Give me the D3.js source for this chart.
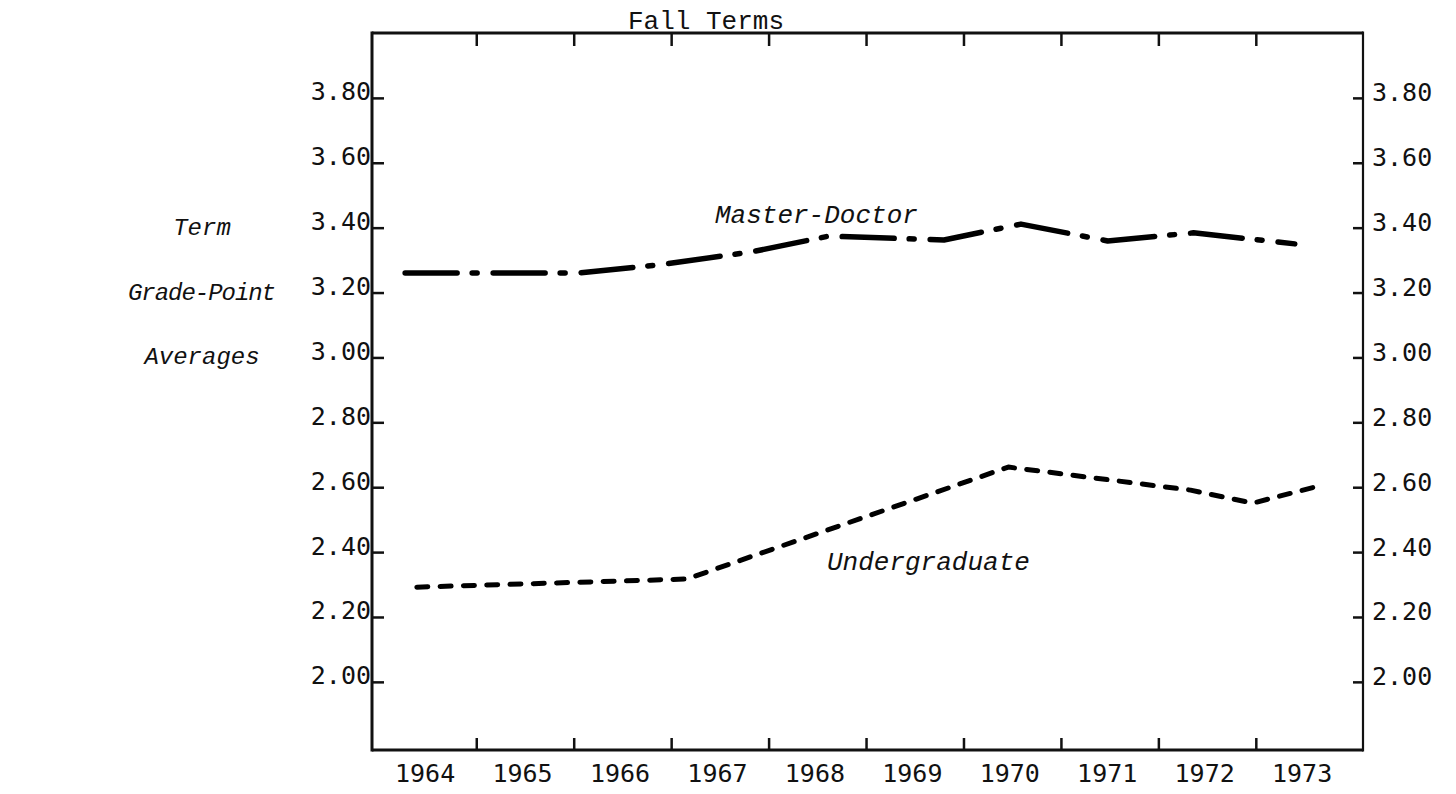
<!DOCTYPE html>
<html>
<head>
<meta charset="utf-8">
<script src="https://cdn.jsdelivr.net/npm/d3@7"></script>
<style>
  body { margin: 0; background: #fff; }
  svg { display: block; }
  .tick text { font-family: "DejaVu Sans Mono", monospace; font-size: 25px; fill: #111; }
  .tick line { stroke: #111; stroke-width: 2.5; }
  .domain { display: none; }
</style>
</head>
<body>
<script>
var width = 1456,
  height = 794;

// fall term years, tick values
var years = [1964, 1965, 1966, 1967, 1968, 1969, 1970, 1971, 1972, 1973];
var yearBreaks = [1965, 1966, 1967, 1968, 1969, 1970, 1971, 1972, 1973];
var gpaTicks = [2.00, 2.20, 2.40, 2.60, 2.80, 3.00, 3.20, 3.40, 3.60, 3.80];

// line vertices (position in year units, grade-point average)
var mdYears = [1964.27, 1966.05, 1966.87, 1967.82, 1968.62, 1969.80, 1970.59, 1971.48, 1972.36, 1973.40];
var mdGpa   = [3.260, 3.260, 3.285, 3.325, 3.374, 3.362, 3.411, 3.359, 3.384, 3.350];
var ugYears = [1964.39, 1967.16, 1970.46, 1972.33, 1972.97, 1973.65];
var ugGpa   = [2.292, 2.317, 2.662, 2.591, 2.551, 2.604];

var plotLeft = 372, plotRight = 1363, plotTop = 33, plotBottom = 750;

var x = d3.scaleLinear().domain([1963.93, 1974.1]).range([plotLeft, plotRight]);
var y = d3.scaleLinear().domain([1.79, 4.0]).range([plotBottom, plotTop]);

var svg = d3.select("body").append("svg")
  .attr("width", width)
  .attr("height", height);

// frame
svg.append("line").attr("x1", plotLeft).attr("x2", plotRight).attr("y1", plotTop).attr("y2", plotTop)
  .style("stroke", "#111").style("stroke-width", 3);
svg.append("line").attr("x1", plotLeft).attr("x2", plotRight).attr("y1", plotBottom).attr("y2", plotBottom)
  .style("stroke", "#111").style("stroke-width", 3);
svg.append("line").attr("x1", plotLeft).attr("x2", plotLeft).attr("y1", plotTop - 1.5).attr("y2", plotBottom + 1.5)
  .style("stroke", "#111").style("stroke-width", 3);
svg.append("line").attr("x1", plotRight).attr("x2", plotRight).attr("y1", plotTop - 1.5).attr("y2", plotBottom + 1.5)
  .style("stroke", "#111").style("stroke-width", 2.2);

// year ticks on top and bottom, labels between them
svg.append("g")
  .attr("transform", "translate(0," + plotTop + ")")
  .call(d3.axisTop(x).tickValues(yearBreaks).tickSize(-13).tickFormat(""));
svg.append("g")
  .attr("transform", "translate(0," + plotBottom + ")")
  .call(d3.axisBottom(x).tickValues(yearBreaks).tickSize(-12).tickFormat(""));
svg.append("g")
  .attr("transform", "translate(0," + plotBottom + ")")
  .call(d3.axisBottom(x).tickValues(years.map((d) => d + 0.47)).tickSize(0).tickPadding(14)
    .tickFormat((d, i) => years[i]))
  .selectAll("text").attr("dy", "0.71em");

// grade-point axes, left and right
svg.append("g")
  .attr("transform", "translate(" + plotLeft + ",0)")
  .call(d3.axisLeft(y).tickValues(gpaTicks).tickSize(-12).tickPadding(1).tickFormat(d3.format(".2f")))
  .selectAll("text").attr("dy", "0.08em");
svg.append("g")
  .attr("transform", "translate(" + plotRight + ",0)")
  .call(d3.axisRight(y).tickValues(gpaTicks).tickSize(-10).tickPadding(9).tickFormat(d3.format(".2f")))
  .selectAll("text").attr("dy", "0.12em");

// lines
var line = d3.line().x((d) => x(d[0])).y((d) => y(d[1]));

svg.append("path")
  .datum(mdYears.map((d, i) => [d, mdGpa[i]]))
  .attr("d", line)
  .style("fill", "none").style("stroke", "#000").style("stroke-width", 5.5)
  .style("stroke-linecap", "round").style("stroke-linejoin", "round")
  .style("stroke-dasharray", "52,15,5,16");

svg.append("path")
  .datum(ugYears.map((d, i) => [d, ugGpa[i]]))
  .attr("d", line)
  .style("fill", "none").style("stroke", "#000").style("stroke-width", 5)
  .style("stroke-linecap", "round").style("stroke-linejoin", "round")
  .style("stroke-dasharray", "11,12.3");

// texts
var mono = "'Liberation Mono', 'Courier New', monospace";

svg.append("text")
  .attr("x", 706).attr("y", 29)
  .attr("text-anchor", "middle")
  .style("font-family", mono).style("font-size", "26px").style("fill", "#111")
  .text("Fall Terms");

svg.append("text")
  .attr("x", 715).attr("y", 223)
  .style("font-family", mono).style("font-style", "italic").style("font-size", "26px").style("fill", "#111")
  .text("Master-Doctor");

svg.append("text")
  .attr("x", 827).attr("y", 570)
  .style("font-family", mono).style("font-style", "italic").style("font-size", "26px").style("fill", "#111")
  .text("Undergraduate");

// left title, one word per line
var yTitle = svg.append("g").selectAll(".ylabel")
  .data([["Term", 3.40], ["Grade-Point", 3.20], ["Averages", 3.00]])
  .enter()
  .append("text")
  .attr("class", "ylabel")
  .attr("x", 202)
  .attr("y", (d) => y(d[1]) + 7)
  .attr("text-anchor", "middle")
  .style("font-family", mono).style("font-style", "italic").style("font-size", "24px").style("fill", "#111")
  .text((d) => d[0]);
yTitle.filter((d) => d[0] == "Grade-Point")
  .attr("textLength", 148).attr("lengthAdjust", "spacing");
</script>
</body>
</html>
